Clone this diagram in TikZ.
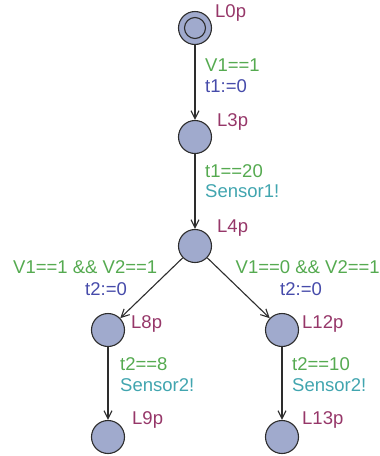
\documentclass[tikz,border=0pt]{standalone}
\usepackage{fontspec}
\setmainfont{Liberation Sans}
\usetikzlibrary{arrows.meta}
\definecolor{locname}{RGB}{150,55,105}
\definecolor{guardc}{RGB}{85,170,80}
\definecolor{assignc}{RGB}{70,75,170}
\definecolor{syncc}{RGB}{65,165,175}
\definecolor{locfill}{RGB}{160,170,205}
\definecolor{locdraw}{RGB}{45,45,45}
\tikzset{
  loc/.style={circle,draw=locdraw,fill=locfill,line width=1.1pt,minimum size=33pt,inner sep=0pt},
  txt/.style={anchor=base west,inner sep=0pt,font=\fontsize{18.5pt}{21pt}\selectfont},
  lname/.style={txt,text=locname},
  guard/.style={txt,text=guardc},
  assign/.style={txt,text=assignc},
  sync/.style={txt,text=syncc},
  edge/.style={draw=locdraw,line width=1.1pt,-{Straight Barb[length=8pt,width=8pt,line width=1.1pt]}}
}
\begin{document}
\begin{tikzpicture}[x=1pt,y=-1pt]
\useasboundingbox (0,0) rectangle (380,456);
\node[loc] (L0) at (195,28) {};
\node[loc,minimum size=21pt] (L0in) at (195,28) {};
\node[loc] (L3) at (195,137) {};
\node[loc] (L4) at (195,246) {};
\node[loc] (L8) at (108,330) {};
\node[loc] (L12) at (282,330) {};
\node[loc] (L9) at (108,437) {};
\node[loc] (L13) at (282,437) {};

\draw[edge] (L0) -- (L3);
\draw[edge] (L3) -- (L4);
\draw[edge] (L4) -- (L8);
\draw[edge] (L4) -- (L12);
\draw[edge] (L8) -- (L9);
\draw[edge] (L12) -- (L13);

\node[lname] (n0) at (215,17.5) {L0p};
\node[guard] (g1) at (205,71.5) {V1==1};
\node[assign] (a1) at (205,92.5) {t1:=0};
\node[lname] (n3) at (217,126) {L3p};
\node[guard] (g2) at (205,177) {t1==20};
\node[sync] (s2) at (205,197) {Sensor1!};
\node[lname] (n4) at (217,232) {L4p};
\node[guard] (g3) at (13,273) {V1==1 \&\& V2==1};
\node[assign] (a3) at (85,295) {t2:=0};
\node[guard] (g4) at (235.5,273) {V1==0 \&\& V2==1};
\node[assign] (a4) at (280,295) {t2:=0};
\node[lname] (n8) at (131,328) {L8p};
\node[lname] (n12) at (302,328) {L12p};
\node[guard] (g5) at (120,370) {t2==8};
\node[sync] (s5) at (120,391) {Sensor2!};
\node[guard] (g6) at (292,370) {t2==10};
\node[sync] (s6) at (292,391) {Sensor2!};
\node[lname] (n9) at (132,424) {L9p};
\node[lname] (n13) at (302,424) {L13p};
\end{tikzpicture}
\end{document}
